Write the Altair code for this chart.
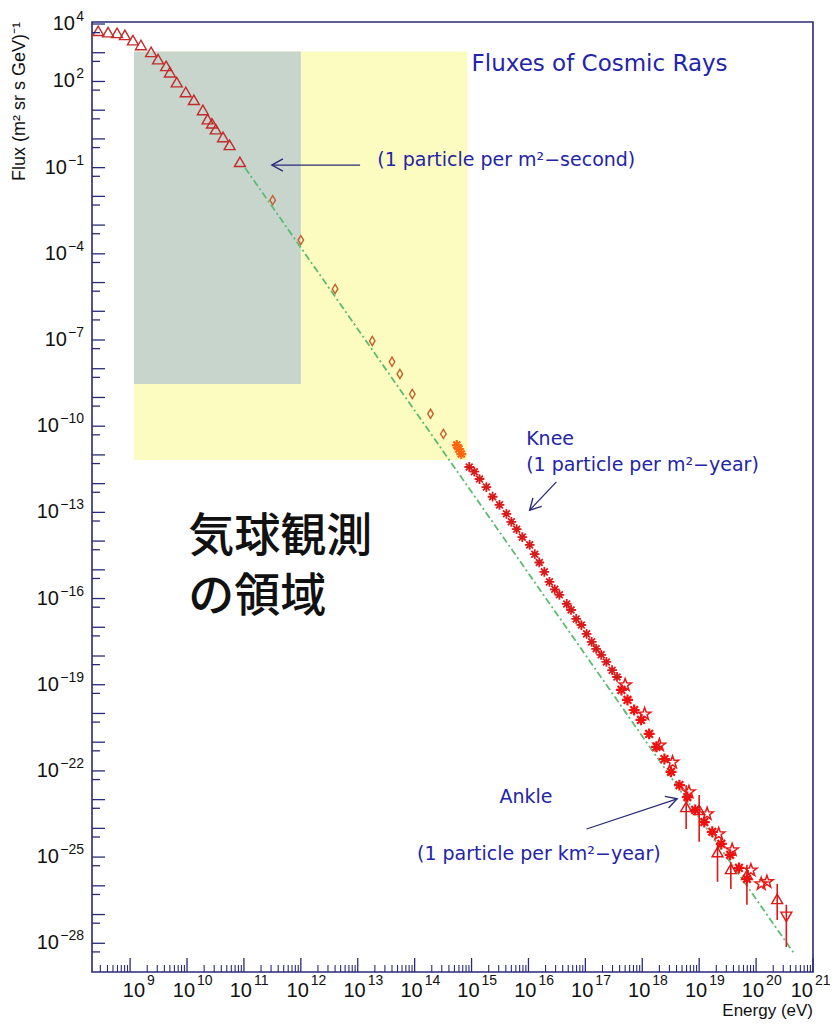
import altair as alt
import pandas as pd

# ---------------- values ----------------
# open triangles (low energy, direct measurements)
tri_E = [2.75e8, 4.1e8, 5.9e8, 8.1e8, 1.12e9, 1.55e9, 2.34e9, 3.1e9, 4.3e9, 5.0e9,
         6.6e9, 9.5e9, 1.32e10, 1.9e10, 2.3e10, 2.75e10, 3.2e10, 4.3e10, 5.6e10, 8.5e10]
tri_F = [5.8e3, 5.2e3, 4.9e3, 4.2e3, 2.75e3, 1.86e3, 1.07e3, 6.0e2, 3.5e2, 2.1e2,
         95, 43, 23, 10.2, 4.9, 3.5, 2.2, 1.17, 0.62, 0.16]

# open diamonds
dia_E = [3.2e11, 1.0e12, 4.0e12, 1.8e13, 4.0e13, 5.5e13, 9.1e13, 1.9e14, 3.2e14]
dia_F = [7.4e-3, 3.0e-4, 6.0e-6, 9.3e-8, 1.74e-8, 6.6e-9, 1.32e-9, 2.7e-10, 5.4e-11]

# orange asterisks
org_E = [5.5e14, 6.0e14, 6.6e14]
org_F = [2.2e-11, 1.6e-11, 1.07e-11]

# red asterisks (knee region)
knee_E = [9.1e14, 1.12e15, 1.38e15, 1.82e15, 2.34e15, 3.1e15, 4.1e15, 5.0e15, 6.2e15, 7.8e15,
          1.05e16, 1.29e16, 1.55e16, 1.9e16, 2.34e16, 2.9e16, 3.5e16, 4.7e16, 5.6e16, 6.9e16,
          8.5e16, 1.05e17, 1.29e17, 1.55e17, 1.9e17, 2.34e17, 2.95e17, 3.6e17]
knee_F = [3.8e-12, 2.6e-12, 1.45e-12, 7.6e-13, 3.5e-13, 1.82e-13, 8.9e-14, 4.7e-14, 2.6e-14, 1.38e-14,
          7.4e-15, 3.5e-15, 1.8e-15, 8.5e-16, 3.8e-16, 2.1e-16, 1.35e-16, 6.5e-17, 4.0e-17, 1.95e-17,
          1.2e-17, 5.9e-18, 3.1e-18, 1.78e-18, 1.1e-18, 6.2e-19, 3.2e-19, 1.86e-19]

# highest energies: filled asterisks
hiA_E = [4.3e17, 5.5e17, 7.2e17, 9.5e17, 1.32e18, 1.78e18, 2.45e18, 3.2e18, 4.5e18,
         6.2e18, 8.5e18, 1.23e19, 1.7e19, 2.45e19, 3.5e19, 5.0e19, 6.9e19]
hiA_F = [6.6e-20, 2.95e-20, 1.32e-20, 6.0e-21, 1.95e-21, 6.9e-22, 2.6e-22, 9.3e-23, 3.2e-23,
         1.23e-23, 4.4e-24, 1.66e-24, 7.6e-25, 2.9e-25, 1.2e-25, 4.2e-26, 1.74e-26]

# highest energies: open stars
hiB_E = [5.0e17, 1.1e18, 2.0e18, 3.4e18, 6.6e18, 1.38e19, 2.2e19, 3.8e19, 8.1e19, 1.23e20, 1.55e20]
hiB_F = [9.8e-20, 9.5e-21, 7.9e-22, 2.0e-22, 1.85e-23, 3.2e-24, 6.4e-25, 1.78e-25, 3.5e-26, 1.17e-26, 1.38e-26]

# highest energies: open triangles with error bars
hiC_E = [5.9e18, 1.0e19, 2.1e19, 3.6e19, 6.9e19, 2.35e20]
hiC_F = [5.6e-24, 4.4e-24, 1.5e-25, 3.9e-26, 2.4e-26, 3.5e-27]
hiC_lo = [9.5e-25, 3.4e-25, 1.38e-26, 7.8e-27, 2.2e-27, 6.5e-28]
hiC_hi = [3.2e-23, 1.45e-23, 3.4e-25, 6.8e-26, 5.4e-26, 1.17e-26]

# down triangle with error bar
hiD_E = [3.4e20]
hiD_F = [8.3e-28]
hiD_lo = [7.4e-29]
hiD_hi = [2.2e-27]

# green dash-dot power law
fit_E = [1.05e11, 4.7e20]
fit_F = [9.8e-2, 4.3e-29]

# shaded regions
reg_E1 = [1.17e9, 1.17e9]
reg_E2 = [8.5e14, 1.0e12]
reg_F1 = [6.7e-12, 2.95e-9]
reg_F2 = [1.1e3, 1.1e3]
reg_col = ["#fdfcc0", "#c7d5cd"]

# annotation texts
ann_text = ["(1 particle per m²−second)", "Knee", "(1 particle per m²−year)",
            "Ankle", "(1 particle per km²−year)"]
ann_E = [2.2e13, 9.1e15, 9.1e15, 3.1e15, 1.1e14]
ann_F = [0.19, 3.6e-11, 4.5e-12, 1.25e-23, 1.3e-25]

title_text = ["Fluxes of Cosmic Rays"]
title_E = [1.0e15]
title_F = [4.1e2]

jp_text = ["気球観測", "の領域"]
jp_E = [1.05e10, 1.05e10]
jp_F = [1.4e-14, 1.15e-16]

# arrows (start -> tip)
arr_E1 = [1.1e13, 3.1e16, 1.05e17]
arr_F1 = [0.123, 1.15e-12, 9.5e-25]
arr_E2 = [3.1e11, 1.05e16, 4.1e18]
arr_F2 = [0.123, 1.2e-13, 1.07e-23]
arr_ang = [270, 224, 72]

# axis labels
ylab_exp = [4, 2, -1, -4, -7, -10, -13, -16, -19, -22, -25, -28]
xlab_exp = [9, 10, 11, 12, 13, 14, 15, 16, 17, 18, 19, 20, 21]

# ---------------- styling ----------------
NAVY = "#2a2a7a"
BLUE = "#2424a8"
AXFONT = "Liberation Sans"
ANFONT = "DejaVu Sans"
W, H = 721, 950

XS = alt.Scale(type="log", domain=[2.14e8, 1e21], nice=False)
YS = alt.Scale(type="log", domain=[1e-29, 1.175e4], nice=False)


def X(f="E"):
    return alt.X(f"{f}:Q", scale=XS, axis=None)


def Y(f="F"):
    return alt.Y(f"{f}:Q", scale=YS, axis=None)


ASTER = "M-1,0L1,0M0,-1L0,1M-0.7,-0.7L0.7,0.7M-0.7,0.7L0.7,-0.7"
STAR = ("M0,-1L0.235,-0.324L0.951,-0.309L0.38,0.124L0.588,0.809L0,0.4"
        "L-0.588,0.809L-0.38,0.124L-0.951,-0.309L-0.235,-0.324Z")
DIAM = "M0,-1L0.6,0L0,1L-0.6,0Z"
CHEV = "M-0.5,0.9L0,0L0.5,0.9"

layers = []

# shaded regions
reg = pd.DataFrame({"E": reg_E1, "E2": reg_E2, "F": reg_F1, "F2": reg_F2, "c": reg_col})
layers.append(alt.Chart(reg).mark_rect().encode(
    x=X(), x2="E2:Q", y=Y(), y2="F2:Q",
    color=alt.Color("c:N", scale=None)))

# power law
fit = pd.DataFrame({"E": fit_E, "F": fit_F})
layers.append(alt.Chart(fit).mark_line(color="#5dbb72", strokeWidth=1.8,
                                       strokeDash=[7, 3, 2, 3]).encode(x=X(), y=Y()))


# data series
def pts(E, F, shape, color, size, sw=1.2):
    df = pd.DataFrame({"E": E, "F": F})
    return alt.Chart(df).mark_point(shape=shape, filled=False, stroke=color,
                                    size=size, strokeWidth=sw, opacity=1).encode(x=X(), y=Y())


def bars(E, lo, hi, color):
    df = pd.DataFrame({"E": E, "lo": lo, "hi": hi})
    return alt.Chart(df).mark_rule(color=color, strokeWidth=1.6).encode(
        x=X(), y=Y("lo"), y2="hi:Q")


layers.append(pts(tri_E, tri_F, "triangle-up", "#c42a2a", 120, sw=1.4))
layers.append(pts(dia_E, dia_F, DIAM, "#c4602c", 85, sw=1.4))
layers.append(pts(org_E, org_F, ASTER, "#ff6610", 100, sw=2.2))
layers.append(pts(knee_E, knee_F, ASTER, "#d81a1a", 95, sw=1.8))
layers.append(bars(hiC_E, hiC_lo, hiC_hi, "#e01515"))
layers.append(bars(hiD_E, hiD_lo, hiD_hi, "#e01515"))
layers.append(pts(hiA_E, hiA_F, ASTER, "#f01010", 120, sw=2.2))
layers.append(pts(hiB_E, hiB_F, STAR, "#e81818", 170, sw=1.5))
layers.append(pts(hiC_E, hiC_F, "triangle-up", "#e01515", 120, sw=1.4))
layers.append(pts(hiD_E, hiD_F, "triangle-down", "#e01515", 120, sw=1.4))

# arrows
arr = pd.DataFrame({"E": arr_E1, "F": arr_F1, "E2": arr_E2, "F2": arr_F2, "a": arr_ang})
layers.append(alt.Chart(arr).mark_rule(color=NAVY, strokeWidth=1.3).encode(
    x=X(), y=Y(), x2="E2:Q", y2="F2:Q"))
layers.append(alt.Chart(arr).mark_point(shape=CHEV, filled=False, stroke=NAVY,
                                        strokeWidth=1.4, size=600, opacity=1).encode(
    x=X("E2"), y=Y("F2"), angle=alt.Angle("a:Q", scale=None)))

# annotation texts
ann = pd.DataFrame({"E": ann_E, "F": ann_F, "t": ann_text})
layers.append(alt.Chart(ann).mark_text(align="left", baseline="middle", font=ANFONT,
                                       fontSize=19, color=BLUE).encode(
    x=X(), y=Y(), text="t:N"))
ttl = pd.DataFrame({"E": title_E, "F": title_F, "t": title_text})
layers.append(alt.Chart(ttl).mark_text(align="left", baseline="middle", font=ANFONT,
                                       fontSize=23, color=BLUE).encode(
    x=X(), y=Y(), text="t:N"))
jp = pd.DataFrame({"E": jp_E, "F": jp_F, "t": jp_text})
layers.append(alt.Chart(jp).mark_text(align="left", baseline="middle", font="Noto Sans CJK JP",
                                      fontSize=46, fontWeight=500, color="#111111").encode(
    x=X(), y=Y(), text="t:N"))

# ---------------- axes (inward ticks, ROOT style) ----------------
ymaj = pd.DataFrame({"v": [10.0 ** k for k in range(-28, 5)]})
ymin = pd.DataFrame({"v": [5 * 10.0 ** k for k in range(-29, 4)]})
layers.append(alt.Chart(ymaj).mark_rule(color=NAVY, strokeWidth=1.3).encode(
    y=Y("v"), x=alt.value(0), x2=alt.value(13)))
layers.append(alt.Chart(ymin).mark_rule(color=NAVY, strokeWidth=1.3).encode(
    y=Y("v"), x=alt.value(0), x2=alt.value(8)))

xmaj = pd.DataFrame({"v": [10.0 ** k for k in range(9, 22)]})
xmin = pd.DataFrame({"v": [m * 10.0 ** k for k in range(8, 21) for m in range(2, 10)
                           if 2.14e8 < m * 10.0 ** k < 1e21]})
layers.append(alt.Chart(xmaj).mark_rule(color=NAVY, strokeWidth=1.3).encode(
    x=X("v"), y=alt.value(H), y2=alt.value(H - 14)))
layers.append(alt.Chart(xmin).mark_rule(color=NAVY, strokeWidth=1.1).encode(
    x=X("v"), y=alt.value(H), y2=alt.value(H - 7)))

# y labels: "10" + superscript exponent
ylab = pd.DataFrame({
    "v": [10.0 ** e for e in ylab_exp],
    "b": ["10"] * len(ylab_exp),
    "e": [str(e).replace("-", "−") for e in ylab_exp],
})
ylab["n"] = ylab["e"].str.len()
layers.append(alt.Chart(ylab).mark_text(align="right", baseline="middle", font=AXFONT,
                                        fontSize=14, dy=-7, color="#111111").encode(
    y=Y("v"), x=alt.value(-8), text="e:N"))
for k in (1, 2, 3):
    layers.append(alt.Chart(ylab).transform_filter(alt.datum.n == k).mark_text(
        align="right", baseline="middle", font=AXFONT, fontSize=20, color="#111111").encode(
        y=Y("v"), x=alt.value(-9 - 8 * k), text="b:N"))

# x labels
xlab = pd.DataFrame({
    "v": [10.0 ** e for e in xlab_exp],
    "b": ["10"] * len(xlab_exp),
    "e": [str(e) for e in xlab_exp],
    "g": ["a" if e < 10 else ("c" if e == 21 else "b") for e in xlab_exp],
})
for g, dxb in (("a", 15), ("b", 8), ("c", 0)):
    sub = alt.Chart(xlab).transform_filter(alt.datum.g == g)
    layers.append(sub.mark_text(align="right", baseline="middle", font=AXFONT, fontSize=20,
                                dx=dxb, color="#111111").encode(
        x=X("v"), y=alt.value(H + 19), text="b:N"))
    layers.append(sub.mark_text(align="left", baseline="middle", font=AXFONT, fontSize=14,
                                dx=dxb + 2, color="#111111").encode(
        x=X("v"), y=alt.value(H + 9), text="e:N"))

# axis titles
layers.append(alt.Chart(pd.DataFrame({"t": ["Flux (m² sr s GeV)⁻¹"]})).mark_text(
    align="right", baseline="middle", angle=270, font=AXFONT, fontSize=18, color="#111111").encode(
    x=alt.value(-72), y=alt.value(0), text="t:N"))
layers.append(alt.Chart(pd.DataFrame({"t": ["Energy (eV)"]})).mark_text(
    align="right", baseline="alphabetic", font=AXFONT, fontSize=17, color="#111111").encode(
    x=alt.value(W), y=alt.value(H + 44), text="t:N"))

chart = alt.layer(*layers).properties(
    width=W, height=H,
    autosize=alt.AutoSizeParams(type="none"),
    padding={"left": 84, "top": 14, "right": 17, "bottom": 48},
    background="white",
).configure_view(stroke=NAVY, strokeWidth=1.6)

chart.save("out.html", embed_options={"renderer": "svg", "actions": False})
